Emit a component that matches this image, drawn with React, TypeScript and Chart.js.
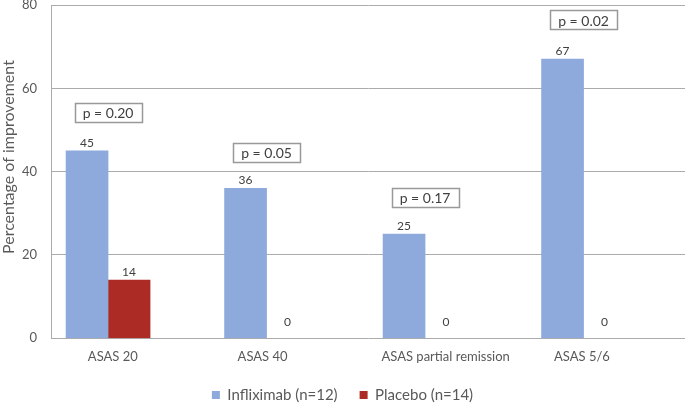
import React, { useEffect, useRef } from "react";
import { Chart, registerables } from "chart.js";

Chart.register(...registerables);

// ---- data ----
const categories = ["ASAS 20", "ASAS 40", "ASAS partial remission", "ASAS 5/6"];
const infliximab = [45, 36, 25, 67];
const placebo = [14, 0, 0, 0];
const pValueLabels = ["p = 0.20", "p = 0.05", "p = 0.17", "p = 0.02"];
const yTicks = [0, 20, 40, 60, 80];
const yTitle = "Percentage of improvement";

// ---- layout (annotation placement, not data) ----
const pBoxLevel = [54.1, 44.7, 33.9, 76.4];
const categoryLabelPos = [0.03, 0.975, 2.13, 2.99];
const yTitleLevel = 43.5;

const FONT = "Lato, 'Open Sans', sans-serif";
const TEXT = "#595959";
const GRID = "#ababab";
const BLUE = "#8EA9DB";
const RED = "#AC2B24";

const colorFor = (c: string) => (ctx: any) =>
  ctx.raw && ctx.raw.y === 0 ? "rgba(0,0,0,0)" : c;

const annotations = {
  id: "annotations",
  afterDatasetsDraw(chart: any) {
    const ctx = chart.ctx;
    const xs = chart.scales.x;
    const ys = chart.scales.y;
    ctx.save();
    ctx.font = `12px ${FONT}`;
    ctx.fillStyle = "#404040";
    ctx.textAlign = "center";
    ctx.textBaseline = "middle";
    chart.data.datasets.forEach((ds: any, di: number) => {
      const meta = chart.getDatasetMeta(di);
      meta.data.forEach((el: any, i: number) => {
        const v = ds.data[i].y;
        const off = v === 0 ? 16 : 8;
        ctx.fillText(String(v), el.x, el.y - off);
      });
    });
    ctx.font = `14px ${FONT}`;
    pValueLabels.forEach((t, i) => {
      const cx = xs.getPixelForValue(i);
      const cy = ys.getPixelForValue(pBoxLevel[i]);
      const w = Math.round(ctx.measureText(t).width + 16);
      const h = 19;
      const x0 = Math.round(cx - w / 2) + 0.5;
      const y0 = Math.round(cy - h / 2) + 0.5;
      ctx.fillStyle = "#ffffff";
      ctx.fillRect(x0, y0, w, h);
      ctx.strokeStyle = "#999999";
      ctx.lineWidth = 1.5;
      ctx.strokeRect(x0, y0, w, h);
      ctx.fillStyle = "#404040";
      ctx.fillText(t, cx, cy + 1);
    });
    ctx.font = `16px ${FONT}`;
    ctx.fillStyle = TEXT;
    ctx.translate(9, ys.getPixelForValue(yTitleLevel));
    ctx.rotate(-Math.PI / 2);
    ctx.fillText(yTitle, 0, 0);
    ctx.restore();
  },
};

export default function App() {
  const ref = useRef<HTMLCanvasElement>(null);
  useEffect(() => {
    if (!ref.current) return;
    const chart = new Chart(ref.current, {
      type: "bar",
      data: {
        datasets: [
          {
            label: "Infliximab (n=12)",
            data: infliximab.map((y, i) => ({ x: i, y })),
            backgroundColor: colorFor(BLUE),
            barThickness: 42,
          },
          {
            label: "Placebo (n=14)",
            data: placebo.map((y, i) => ({ x: i, y })),
            backgroundColor: colorFor(RED),
            barThickness: 42,
          },
        ],
      },
      options: {
        animation: false,
        responsive: true,
        maintainAspectRatio: false,
        layout: { padding: { top: 5, right: 0, left: 0, bottom: -8.5 } },
        plugins: {
          tooltip: { enabled: false },
          legend: {
            position: "bottom",
            labels: {
              boxWidth: 8,
              boxHeight: 8,
              padding: 22,
              color: TEXT,
              font: { family: FONT, size: 15 },
            },
          },
        },
        scales: {
          x: {
            type: "linear",
            offset: false,
            min: -0.36,
            max: 3.64,
            grid: { display: false, drawTicks: false, offset: false },
            border: { display: false },
            afterBuildTicks: (s: any) => {
              s.ticks = categoryLabelPos.map((v) => ({ value: v }));
            },
            afterFit: (s: any) => {
              s.paddingLeft = 0;
              s.paddingRight = 0;
              s.height = 27.2;
            },
            ticks: {
              autoSkip: false,
              maxRotation: 0,
              padding: 11,
              color: TEXT,
              font: { family: FONT, size: 13 },
              callback: (_v: any, i: number) => categories[i],
            },
          },
          y: {
            min: 0,
            max: 80,
            afterBuildTicks: (s: any) => {
              s.ticks = yTicks.map((v) => ({ value: v }));
            },
            afterFit: (s: any) => {
              s.width = 51;
              s.paddingTop = 0;
              s.paddingBottom = 0;
            },
            grid: { color: GRID, drawTicks: false },
            border: { display: true, color: GRID },
            title: { display: false },
            ticks: {
              padding: 14,
              color: TEXT,
              font: { family: FONT, size: 13 },
            },
          },
        },
      },
      plugins: [annotations],
    } as any);
    return () => chart.destroy();
  }, []);
  return (
    <div style={{ position: "absolute", left: 0, top: 0, width: 685, height: 404 }}>
      <canvas ref={ref} />
    </div>
  );
}
